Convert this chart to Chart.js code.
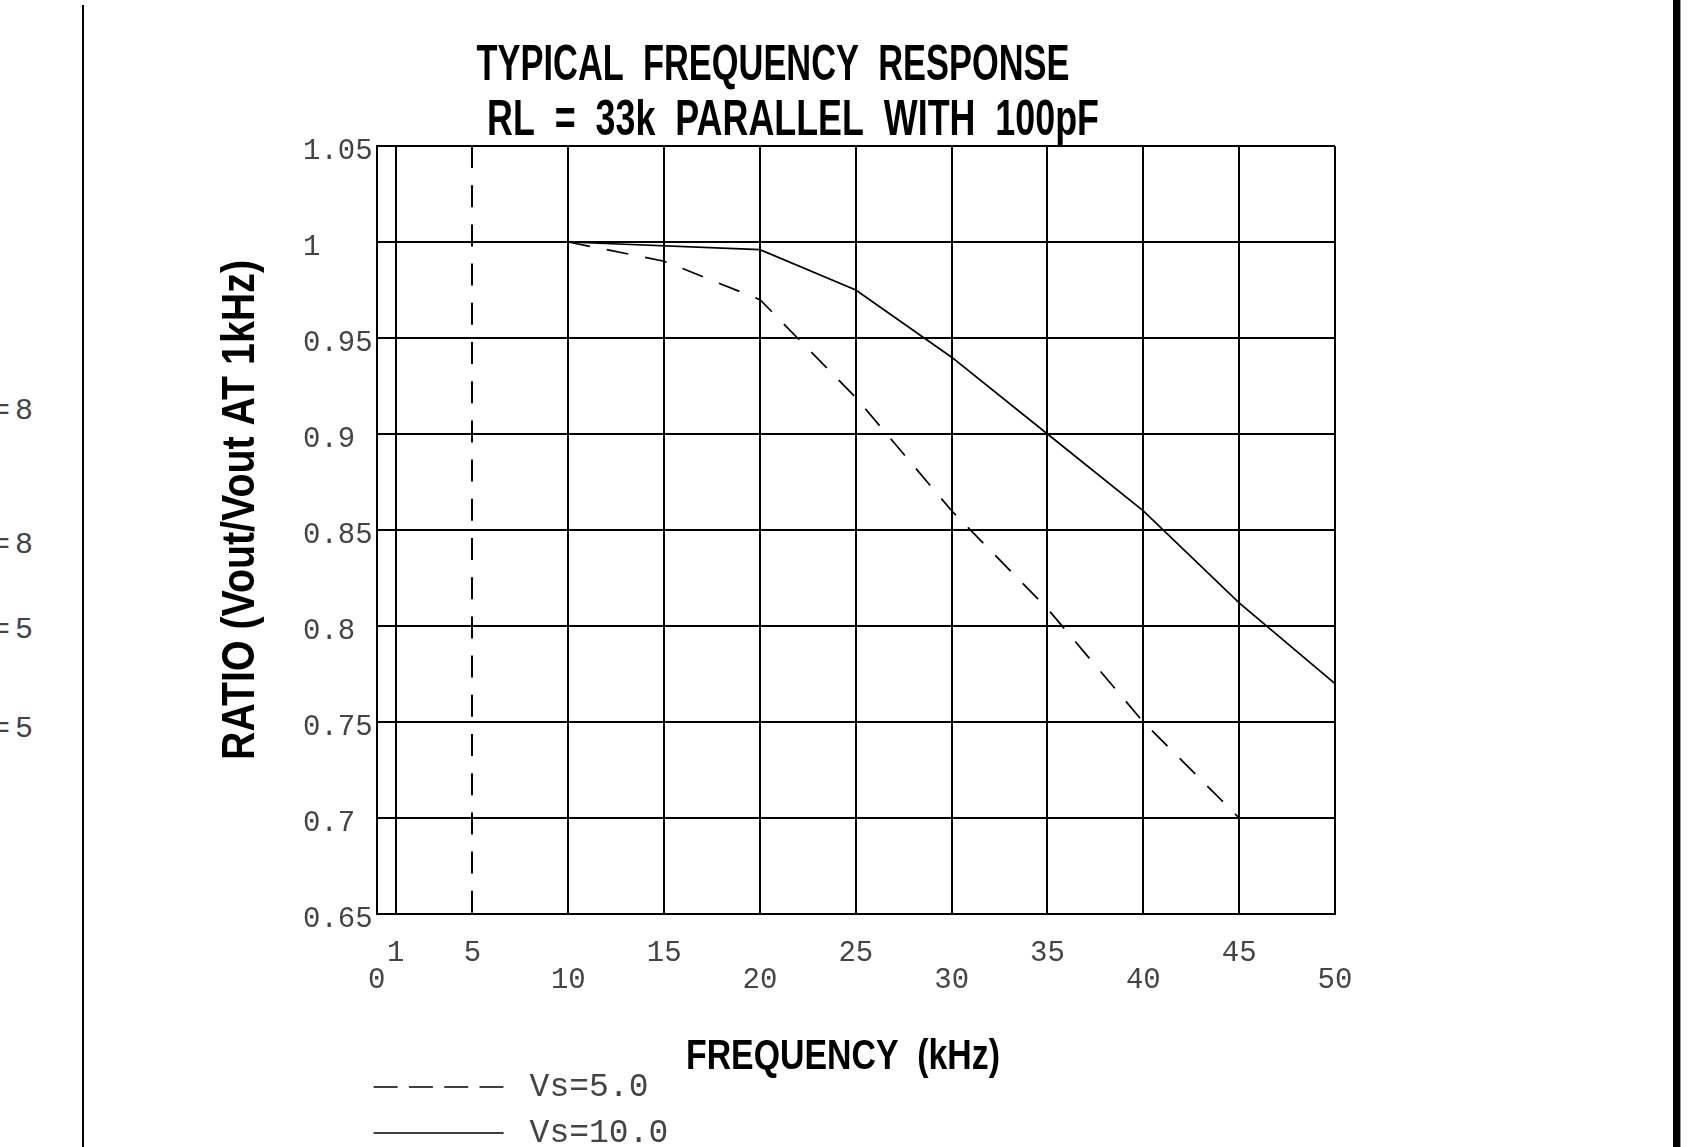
<!DOCTYPE html>
<html>
<head>
<meta charset="utf-8">
<title>Typical Frequency Response</title>
<script src="https://cdn.jsdelivr.net/npm/chart.js@4.4.1/dist/chart.umd.min.js"></script>
<style>
    body { margin: 0; background: #fff; }
    #page { position: relative; width: 1698px; height: 1147px; overflow: hidden; background: #fff; }
    #chart-div { position: absolute; left: 0; top: 0; width: 1698px; height: 1147px; }
    .rule-left { position: absolute; left: 82px; top: 5px; bottom: 0; border-left: 2px solid #000; }
    .rule-right { position: absolute; left: 1673px; top: 0; bottom: 0; width: 7px; background: #000; border-right: 1px solid #999; }
    .cut { position: absolute; left: -8px; font: 30px "Liberation Mono", "DejaVu Sans Mono", monospace; letter-spacing: 5px; line-height: 30px; color: #444; }
</style>
</head>
<body>
<div id="page">
    <div class="rule-left"></div>
    <div class="rule-right"></div>
    <div class="cut" style="top:396px">=8</div>
    <div class="cut" style="top:530px">=8</div>
    <div class="cut" style="top:615px">=5</div>
    <div class="cut" style="top:714px">=5</div>
    <div id="chart-div"><canvas id="freqChart"></canvas></div>
</div>
<script>
/* ---------------------------- Data --------------------------------------------- */

const xTicks = [0, 1, 5, 10, 15, 20, 25, 30, 35, 40, 45, 50]
const xTickLabels = ['0', '1', '5', '10', '15', '20', '25', '30', '35', '40', '45', '50']
const yTicks = [0.65, 0.7, 0.75, 0.8, 0.85, 0.9, 0.95, 1, 1.05]
const yTickLabels = ['0.65', '0.7', '0.75', '0.8', '0.85', '0.9', '0.95', '1', '1.05']

// Vs = 5.0 (dashed)
const freqVs5 = [10, 15, 20, 25, 30, 35, 40, 45]
const ratioVs5 = [1.0, 0.990, 0.970, 0.919, 0.860, 0.809, 0.750, 0.700]

// Vs = 10.0 (solid)
const freqVs10 = [10, 20, 25, 30, 35, 40, 45, 50]
const ratioVs10 = [1.0, 0.996, 0.975, 0.940, 0.900, 0.860, 0.812, 0.770]

/* ---------------------------- Styles --------------------------------------------- */

const boldFont = "'Liberation Sans', Arial, sans-serif"
const monoFont = "'Liberation Mono', 'DejaVu Sans Mono', monospace"
const dashPattern = [22, 17.2]

const toPoints = (xs, ys) => xs.map((x, i) => ({x: x, y: ys[i]}))

/* ---------------------------- Legend (stacked rows) ------------------------------ */

const legendRows = {
    id: 'legendRows',
    afterDraw(chart, args, opts) {
        const ctx = chart.ctx
        const area = chart.chartArea
        ctx.save()
        ctx.font = opts.font
        ctx.textBaseline = 'middle'
        ctx.textAlign = 'left'
        chart.data.datasets.forEach((ds, i) => {
            const y = area.bottom + opts.top + i * opts.rowGap
            const x = area.left + opts.left
            ctx.beginPath()
            ctx.setLineDash(ds.borderDash ? opts.dash : [])
            ctx.lineWidth = ds.borderWidth
            ctx.strokeStyle = ds.borderColor
            ctx.moveTo(x, y)
            ctx.lineTo(x + opts.lineLength, y)
            ctx.stroke()
            ctx.setLineDash([])
            ctx.fillStyle = opts.color
            ctx.fillText(ds.label, x + opts.lineLength + opts.gap, y)
        })
        ctx.restore()
    }
}

/* ---------------------------- Condensed headings --------------------------------- */

// drafting-style lettering: bold face squeezed to the lettering width
const stencilText = {
    id: 'stencilText',
    afterDraw(chart, args, opts) {
        const ctx = chart.ctx
        opts.items.forEach(item => {
            ctx.save()
            ctx.font = 'bold ' + item.size + 'px ' + boldFont
            ctx.fillStyle = opts.color
            ctx.textAlign = 'center'
            ctx.textBaseline = 'middle'
            const w = ctx.measureText(item.text).width
            ctx.translate(item.x, item.y)
            ctx.rotate(item.rotation || 0)
            ctx.scale(item.width / w, 1)
            ctx.fillText(item.text, 0, 0)
            ctx.restore()
        })
    }
}

/* ---------------------------- Chart --------------------------------------------- */

const config = {
    type: 'line',
    data: {
        datasets: [{
            label: 'Vs=5.0',
            data: toPoints(freqVs5, ratioVs5),
            borderColor: '#000',
            borderWidth: 1.7,
            borderDash: dashPattern,
            pointRadius: 0,
            tension: 0,
            fill: false
        }, {
            label: 'Vs=10.0',
            data: toPoints(freqVs10, ratioVs10),
            borderColor: '#000',
            borderWidth: 1.7,
            pointRadius: 0,
            tension: 0,
            fill: false
        }]
    },
    options: {
        responsive: true,
        maintainAspectRatio: false,
        animation: false,
        layout: {
            padding: {left: 299, right: 363, top: 146, bottom: 128}
        },
        plugins: {
            legend: {display: false},
            tooltip: {enabled: false},
            title: {display: false},
            legendRows: {
                top: 173,
                rowGap: 46,
                left: -3,
                lineLength: 130,
                gap: 26,
                dash: [24, 11.3],
                font: "33px 'Liberation Mono', 'DejaVu Sans Mono', monospace",
                color: '#444'
            },
            stencilText: {
                color: '#000',
                items: [
                    {text: 'TYPICAL  FREQUENCY  RESPONSE', x: 773, y: 66, size: 50, width: 593},
                    {text: 'RL  =  33k  PARALLEL  WITH  100pF', x: 793, y: 121, size: 50, width: 612},
                    {text: 'FREQUENCY  (kHz)', x: 843, y: 1057, size: 43, width: 314},
                    {text: 'RATIO (Vout/Vout AT 1kHz)', x: 241, y: 510, size: 46, width: 500, rotation: -Math.PI / 2}
                ]
            }
        },
        scales: {
            x: {
                type: 'linear',
                min: 0,
                max: 50,
                afterBuildTicks: scale => {
                    scale.ticks = xTicks.map(v => ({value: v}))
                },
                grid: {color: '#000', lineWidth: 2, drawTicks: false},
                border: {
                    display: true,
                    color: '#000',
                    width: 2,
                    dash: ctx => (ctx.tick && ctx.tick.value === 5) ? dashPattern : []
                },
                ticks: {
                    autoSkip: false,
                    maxRotation: 0,
                    padding: 25.5,
                    color: '#444',
                    font: {family: monoFont, size: 29, lineHeight: '27px'},
                    // tens sit on the lower row, the rest on the upper row
                    callback: (value, index) => value % 10 === 0 ? ['', xTickLabels[index]] : [xTickLabels[index], '']
                }
            },
            y: {
                type: 'linear',
                min: 0.65,
                max: 1.05,
                afterBuildTicks: scale => {
                    scale.ticks = yTicks.map(v => ({value: v}))
                },
                grid: {color: '#000', lineWidth: 2, drawTicks: false},
                border: {display: true, color: '#000', width: 2},
                ticks: {
                    padding: 4,
                    color: '#444',
                    font: {family: monoFont, size: 29, lineHeight: '10px'},
                    // padded so the labels read left-aligned in the mono face
                    callback: (value, index) => ['', yTickLabels[index].padEnd(4, ' ')]
                }
            }
        }
    },
    plugins: [legendRows, stencilText]
}

const ctx = document.getElementById('freqChart')
const freqChart = new Chart(ctx, config)
</script>
</body>
</html>
